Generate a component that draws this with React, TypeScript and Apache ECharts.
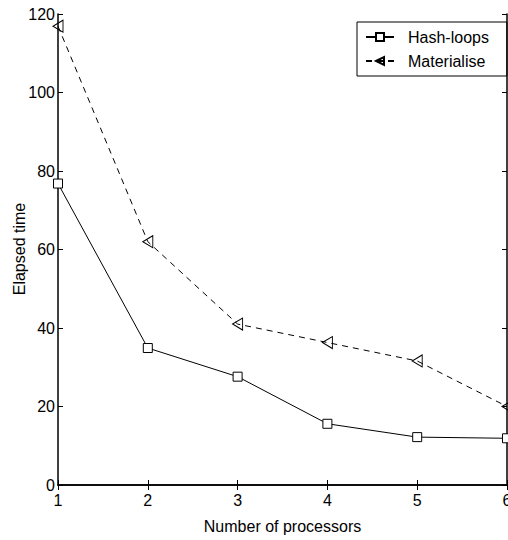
import React, { useEffect, useRef } from "react";
import * as echarts from "echarts";

const processors = [1, 2, 3, 4, 5, 6];
const hashLoops = [76.8, 34.9, 27.6, 15.6, 12.2, 11.9];
const materialise = [116.9, 62.0, 41.0, 36.3, 31.6, 20.0];
const yTicks = [0, 20, 40, 60, 80, 100, 120];
const yTitle = "Elapsed time";
const xTitle = "Number of processors";

const FONT = "'Liberation Sans', Arial, sans-serif";

export default function App() {
  const ref = useRef<HTMLDivElement>(null);
  useEffect(() => {
    if (!ref.current) return;
    const chart = echarts.init(ref.current, undefined, { renderer: "svg" });
    const axisCommon = {
      axisLine: { show: true, lineStyle: { color: "#000", width: 1.5 } },
      axisTick: { show: true, inside: true, length: 5, lineStyle: { color: "#000", width: 1 } },
      splitLine: { show: false },
    };
    chart.setOption({
      animation: false,
      backgroundColor: "#fff",
      textStyle: { fontFamily: FONT, color: "#000" },
      grid: { left: 58, top: 14, right: 1, bottom: 55, containLabel: false, outerBoundsMode: "none" },
      graphic: [
        {
          type: "text",
          x: 19,
          y: 249,
          rotation: Math.PI / 2,
          style: {
            text: yTitle,
            fontFamily: FONT,
            fontSize: 16,
            fill: "#000",
            align: "center",
            verticalAlign: "middle",
          },
        },
      ],
      legend: {
        orient: "vertical",
        left: 357,
        top: 22,
        padding: [7, 18, 7, 8],
        itemWidth: 28,
        itemHeight: 10,
        itemGap: 8,
        borderColor: "#000",
        borderWidth: 1,
        backgroundColor: "transparent",
        textStyle: { fontFamily: FONT, fontSize: 16, color: "#000", padding: [0, 0, 0, 9] },
        symbolRotate: "inherit",
        data: ["Hash-loops", "Materialise"],
      },
      xAxis: [
        {
          type: "value",
          min: 1,
          max: 6,
          interval: 1,
          name: xTitle,
          nameLocation: "middle",
          nameGap: 33,
          nameTextStyle: { fontFamily: FONT, fontSize: 16, color: "#000" },
          axisLabel: { fontFamily: FONT, fontSize: 16, color: "#000", margin: 7 },
          ...axisCommon,
        },
        {
          type: "value",
          position: "top",
          min: 1,
          max: 6,
          interval: 1,
          axisLabel: { show: false },
          ...axisCommon,
        },
      ],
      yAxis: [
        {
          type: "value",
          min: 0,
          max: 120,
          interval: 20,
          axisLabel: {
            fontFamily: FONT,
            fontSize: 16,
            color: "#000",
            margin: 3,
            formatter: (v: number) => (yTicks.includes(v) ? String(v) : ""),
          },
          ...axisCommon,
        },
        {
          type: "value",
          position: "right",
          min: 0,
          max: 120,
          interval: 20,
          axisLabel: { show: false },
          ...axisCommon,
        },
      ],
      series: [
        {
          name: "Hash-loops",
          type: "line",
          data: processors.map((p, i) => [p, hashLoops[i]]),
          symbol: "rect",
          symbolSize: 9,
          lineStyle: { color: "#000", width: 1, type: "solid" },
          itemStyle: { color: "#fff", borderColor: "#000", borderWidth: 1 },
          z: 3,
        },
        {
          name: "Materialise",
          type: "line",
          data: processors.map((p, i) => [p, materialise[i]]),
          symbol: "triangle",
          symbolRotate: 90,
          symbolSize: [12, 10],
          lineStyle: { color: "#000", width: 1, type: [6, 5] },
          itemStyle: { color: "rgba(255,255,255,0)", borderColor: "#000", borderWidth: 1 },
          z: 3,
        },
      ],
    });
    return () => chart.dispose();
  }, []);
  return <div ref={ref} style={{ width: 508, height: 540, position: "absolute", left: 0, top: 0 }} />;
}
